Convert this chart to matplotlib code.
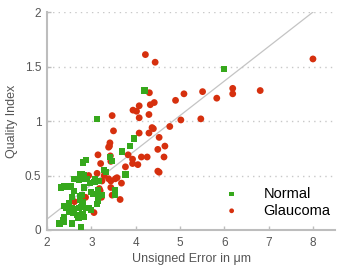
import matplotlib
matplotlib.use("Agg")
import matplotlib.pyplot as plt
import numpy as np

plt.rcParams["font.family"] = ["Liberation Sans", "DejaVu Sans"]

# Normal (green squares)
normal_x = [3.13, 4.20, 5.99, 3.96, 3.87, 3.69, 3.43, 3.46, 2.88, 2.82, 2.78, 2.84,
            2.62, 2.67, 2.73, 2.82, 2.89, 2.97, 3.07, 3.17, 3.09, 3.29, 3.33, 3.77,
            2.38, 2.32, 2.53, 2.61, 2.83, 2.79, 2.99, 3.04, 3.15, 3.17, 3.23, 3.54,
            2.57, 2.74, 2.74, 2.80, 3.13, 2.50, 2.38, 2.44, 2.56, 2.61, 2.72, 2.77,
            2.88, 2.95, 2.99, 2.51, 2.60, 2.80, 2.69, 2.84, 2.71, 2.38, 2.37, 2.28,
            2.39, 2.56, 2.77, 3.53, 3.15, 2.74, 2.63, 2.39]
normal_y = [1.02, 1.28, 1.48, 0.84, 0.77, 0.72, 0.67, 0.63, 0.64, 0.62, 0.51, 0.50,
            0.47, 0.47, 0.46, 0.47, 0.47, 0.43, 0.44, 0.45, 0.47, 0.55, 0.53, 0.51,
            0.40, 0.39, 0.40, 0.36, 0.39, 0.32, 0.35, 0.33, 0.37, 0.31, 0.32, 0.32,
            0.30, 0.31, 0.28, 0.26, 0.24, 0.25, 0.22, 0.20, 0.20, 0.19, 0.20, 0.21,
            0.20, 0.20, 0.18, 0.17, 0.16, 0.15, 0.14, 0.12, 0.11, 0.12, 0.09, 0.06,
            0.07, 0.06, 0.03, 0.37, 0.27, 0.51, 0.47, 0.40]

# Glaucoma (red circles)
glaucoma_x = [4.22, 4.44, 8.00, 4.31, 4.90, 5.09, 4.42, 4.33, 4.08, 3.94, 4.02, 4.30,
              4.08, 3.47, 5.02, 4.77, 5.51, 5.83, 6.19, 6.19, 6.81, 5.47,
              4.53, 4.66, 4.50, 4.64, 4.50, 4.53, 4.37, 4.30, 4.08, 3.50, 4.26, 4.13,
              4.05, 3.93, 3.93, 3.83, 3.77, 3.42, 3.41, 3.39, 3.43, 3.44, 3.15, 3.21,
              3.13, 3.29, 3.39, 3.54, 3.44, 3.58, 3.68, 3.24, 2.94, 3.18, 3.20, 3.18,
              3.44, 3.47, 3.23, 3.65, 2.87, 2.62, 3.06, 4.40]
glaucoma_y = [1.61, 1.54, 1.57, 1.26, 1.19, 1.25, 1.17, 1.15, 1.14, 1.10, 1.09, 1.06,
              1.03, 1.05, 1.01, 0.95, 1.27, 1.21, 1.30, 1.25, 1.28, 1.02,
              0.85, 0.77, 0.74, 0.67, 0.54, 0.53, 0.94, 0.89, 0.89, 0.91, 0.67, 0.67,
              0.60, 0.61, 0.65, 0.69, 0.58, 0.80, 0.77, 0.76, 0.68, 0.63, 0.69, 0.61,
              0.52, 0.50, 0.47, 0.47, 0.45, 0.48, 0.43, 0.45, 0.50, 0.38, 0.36, 0.35,
              0.39, 0.32, 0.30, 0.28, 0.30, 0.26, 0.16, 0.93]

# reference line
line_x = [2, 8]
line_y = [0.1, 2.0]

green = "#36a81c"
red = "#d6300e"
gray = "#bdbdbd"
text_gray = "#555555"

fig = plt.figure(figsize=(3.43, 2.69), dpi=100)
ax = fig.add_axes([0.137, 0.145, 0.84, 0.81])

for yv in [0.5, 1.0, 1.5, 2.0]:
    ax.axhline(yv, color="#c8c8c8", lw=1, ls=(0, (1, 3)), zorder=0)

ax.plot(line_x, line_y, color="#c4c4c4", lw=0.9, zorder=1)
ax.scatter(normal_x, normal_y, marker="s", s=20, color=green, edgecolors="none",
           label="Normal", zorder=3)
ax.scatter(glaucoma_x, glaucoma_y, marker="o", s=24, color=red, edgecolors="none",
           label="Glaucoma", zorder=2)

ax.set_xlim(2, 8.5)
ax.set_ylim(0, 2)
ax.set_xticks([2, 3, 4, 5, 6, 7, 8])
ax.set_yticks([0, 0.5, 1, 1.5, 2])
ax.set_yticklabels(["0", "0.5", "1", "1.5", "2"])

for side in ["top", "right"]:
    ax.spines[side].set_visible(False)
for side in ["left", "bottom"]:
    ax.spines[side].set_color(gray)
    ax.spines[side].set_linewidth(1.5)

ax.tick_params(direction="in", length=3, width=1, color=gray, labelsize=8.5,
               labelcolor=text_gray)
ax.tick_params(axis="x", pad=5)
ax.tick_params(axis="y", pad=4)

ax.set_xlabel("Unsigned Error in μm", fontsize=9, color=text_gray, labelpad=3)
ax.set_ylabel("Quality Index", fontsize=9, color=text_gray, labelpad=5)

leg = ax.legend(loc="lower right", bbox_to_anchor=(1.005, 0.03), frameon=False,
                fontsize=10.5, markerscale=0.7, handletextpad=1.2,
                labelspacing=0.2, borderaxespad=0)

fig.savefig("out.png", dpi=100)
